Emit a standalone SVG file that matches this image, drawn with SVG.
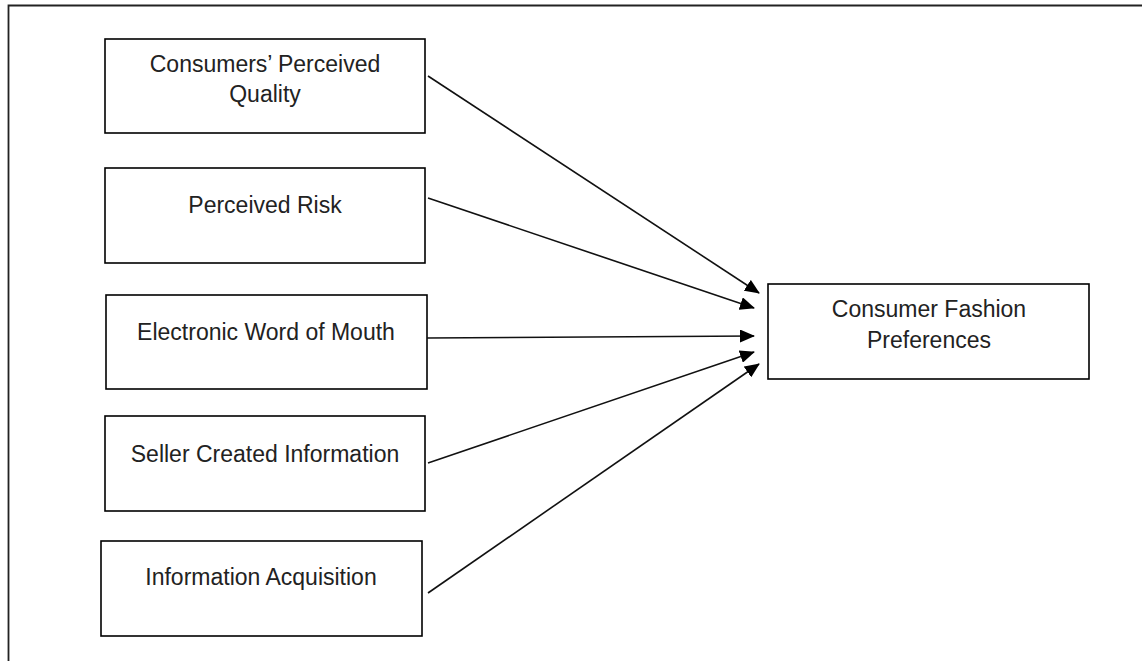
<svg xmlns="http://www.w3.org/2000/svg" width="1142" height="661" viewBox="0 0 1142 661">
<defs>
<style>
.box{fill:#fff;stroke:#000;stroke-width:1.6}
.lbl{font-family:"Liberation Sans",Arial,sans-serif;font-size:23px;fill:#222;text-anchor:middle}
.con{stroke:#111;stroke-width:1.6;fill:none;marker-end:url(#ah)}
</style>
<marker id="ah" markerWidth="15" markerHeight="13" refX="14" refY="6.5" orient="auto" markerUnits="userSpaceOnUse">
<path d="M0,0 L15,6.5 L0,13 Z" fill="#000"/>
</marker>
</defs>
<rect width="1142" height="661" fill="#fff"/>
<path d="M8.5,661 V5.5 H1142" fill="none" stroke="#222" stroke-width="1.8"/>
<g id="n1"><rect class="box" x="105" y="39" width="320" height="94"/><text class="lbl" x="265" y="72">Consumers’ Perceived</text><text class="lbl" x="265" y="102">Quality</text></g>
<g id="n2"><rect class="box" x="105" y="168" width="320" height="95"/><text class="lbl" x="265" y="213">Perceived Risk</text></g>
<g id="n3"><rect class="box" x="106" y="295" width="321" height="94"/><text class="lbl" x="266" y="340">Electronic Word of Mouth</text></g>
<g id="n4"><rect class="box" x="105" y="416" width="320" height="95"/><text class="lbl" x="265" y="462">Seller Created Information</text></g>
<g id="n5"><rect class="box" x="101" y="541" width="321" height="95"/><text class="lbl" x="261" y="585">Information Acquisition</text></g>
<g id="n6"><rect class="box" x="768" y="284" width="321" height="95"/><text class="lbl" x="929" y="317">Consumer Fashion</text><text class="lbl" x="929" y="348">Preferences</text></g>
<g id="connectors">
<line class="con" x1="428" y1="76" x2="759" y2="293"/>
<line class="con" x1="428" y1="198" x2="754" y2="308"/>
<line class="con" x1="427" y1="338" x2="754" y2="336"/>
<line class="con" x1="428" y1="463" x2="754" y2="352"/>
<line class="con" x1="428" y1="593" x2="759" y2="364"/>
</g>
</svg>
